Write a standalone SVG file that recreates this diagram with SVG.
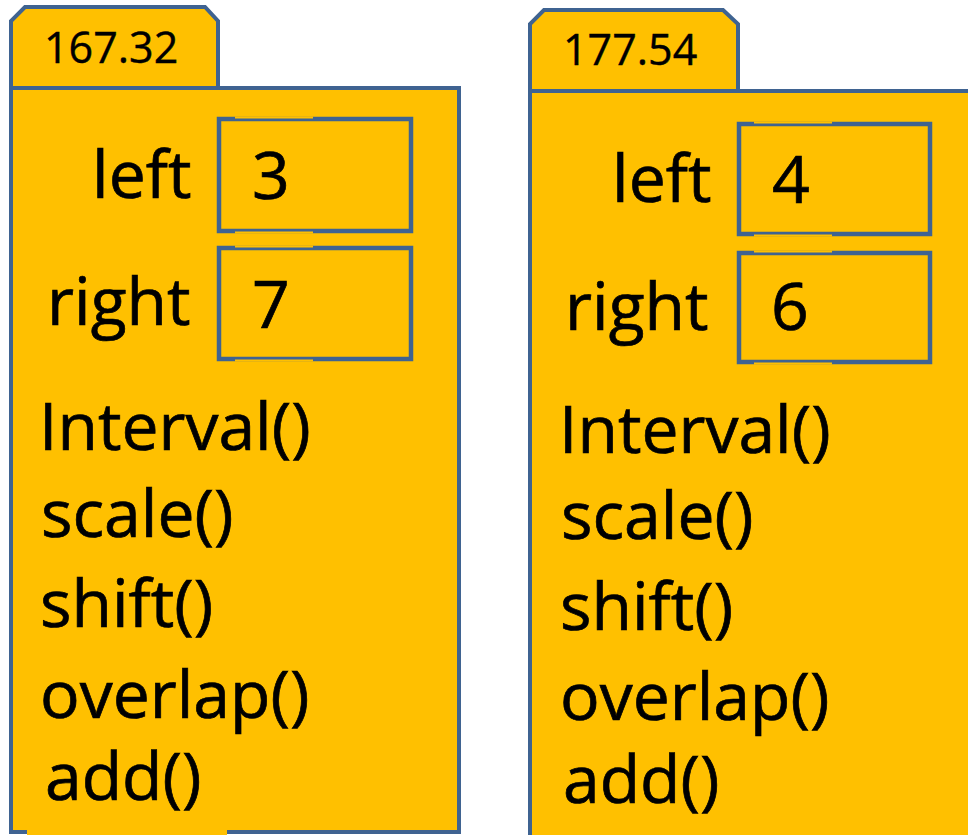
<svg xmlns="http://www.w3.org/2000/svg" width="968" height="835" viewBox="0 0 968 835">
<style>
.shape{fill:#FFC000;stroke:#3F6391;stroke-width:4;stroke-linejoin:miter}
.box{fill:#FFC000;stroke:#3F6391;stroke-width:4.5}
.patch{fill:#FFC000;stroke:none}
text{font-family:"Open Sans","Liberation Sans",sans-serif;fill:#000;stroke:#000;stroke-width:0.7}
.big{font-size:66px}
.tab{font-size:43px;stroke-width:0.4}
</style>
<rect width="968" height="835" fill="#FFFFFF"/>
<g id="obj1">
  <path class="shape" d="M11,88 L11,21 L25,7 L205,7 L218,21 L218,88 Z"/>
  <rect class="shape" x="11" y="88" width="448" height="744"/>
  <rect class="patch" x="27" y="828" width="200" height="8"/>
  <text class="tab" x="44" y="63">167.32</text>
  <g id="obj1-left">
    <text class="big" x="92" y="198">left</text>
    <rect class="box" x="219" y="119" width="192" height="112"/>
    <rect class="patch" x="235" y="116.5" width="78" height="2"/>
    <rect class="patch" x="235" y="231.5" width="78" height="2"/>
    <text class="big" x="252" y="199">3</text>
  </g>
  <g id="obj1-right">
    <text class="big" x="47" y="325">right</text>
    <rect class="box" x="219" y="248" width="192" height="111"/>
    <rect class="patch" x="235" y="245.5" width="78" height="2"/>
    <rect class="patch" x="235" y="359.5" width="78" height="2"/>
    <text class="big" x="252" y="328">7</text>
  </g>
  <text class="big" x="39" y="450">Interval()</text>
  <text class="big" x="41" y="537">scale()</text>
  <text class="big" x="40" y="627">shift()</text>
  <text class="big" x="40" y="718">overlap()</text>
  <text class="big" x="45" y="800">add()</text>
</g>
<g id="obj2">
  <path class="shape" d="M530,91 L530,24 L544,10 L723,10 L738,24 L738,91 Z"/>
  <rect class="shape" x="530" y="91" width="460" height="760"/>
  <text class="tab" x="563" y="65">177.54</text>
  <g id="obj2-left">
    <text class="big" x="612" y="202">left</text>
    <rect class="box" x="739" y="124" width="191" height="110"/>
    <rect class="patch" x="754" y="121.5" width="78" height="2"/>
    <rect class="patch" x="754" y="234.5" width="78" height="2"/>
    <text class="big" x="772" y="203">4</text>
  </g>
  <g id="obj2-right">
    <text class="big" x="565" y="330">right</text>
    <rect class="box" x="739" y="253" width="191" height="109"/>
    <rect class="patch" x="754" y="250.5" width="78" height="2"/>
    <rect class="patch" x="754" y="362.5" width="78" height="2"/>
    <text class="big" x="771" y="330">6</text>
  </g>
  <text class="big" x="559" y="453">Interval()</text>
  <text class="big" x="561" y="539">scale()</text>
  <text class="big" x="560" y="630">shift()</text>
  <text class="big" x="560" y="720">overlap()</text>
  <text class="big" x="563" y="803">add()</text>
</g>
<g id="connectors"></g>
</svg>
